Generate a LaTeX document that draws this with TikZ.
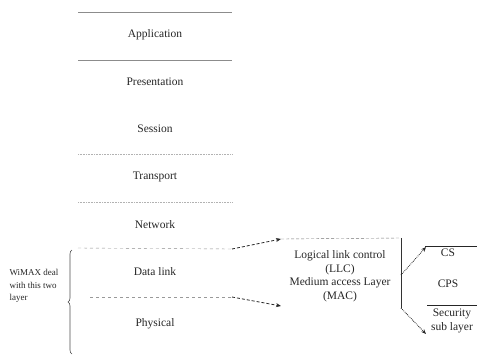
\documentclass[tikz,border=0pt]{standalone}
\usepackage{fontspec}
\setmainfont{Liberation Serif}
\usetikzlibrary{calc,arrows.meta,decorations.pathreplacing}

\begin{document}
\begin{tikzpicture}[x=1pt,y=-1pt,
	layer/.style={font=\fontsize{11.5}{13.5}\selectfont,text=black!85},
	sep/.style={black!45,line width=0.7pt},
	faint/.style={black!30,densely dotted,line width=0.6pt},
	conn/.style={black!85,densely dashed,line width=0.8pt,-{Stealth[length=5pt,width=4pt]}}]
	\useasboundingbox (0,0) rectangle (477,354);
	\newcommand{\stL}{78}
	\newcommand{\stR}{232}
	% OSI stack
	\foreach \nm/\y in {Application/35,Presentation/82,Session/129,Transport/177,Network/225}{
		\node[layer] (\nm) at (155,\y) {\nm};
	}
	\node[layer] (datalink) at (155,272) {Data link};
	\node[layer] (physical) at (155,324) {Physical};
	\draw[sep] (\stL,12) -- (\stR,12); %top
	\draw[sep] (\stL,60) -- (\stR,60);
	\draw[faint] (\stL,154) -- (\stR,154);
	\draw[faint] (\stL,202) -- (\stR,202);
	\coordinate (dltop) at (\stR,249);
	\coordinate (dlmid) at (\stR,297);
	\draw[black!45,dashed] (\stL,248) -- (dltop);
	\draw[black!40,dashed] (90,297) -- (dlmid);
	% brace + WiMAX
	\draw[black!70,line width=0.6pt,decorate,decoration={brace,amplitude=4pt}] (72,354) -- (72,250);
	\node[anchor=west,align=left,font=\fontsize{9}{12.5}\selectfont,text=black!85] (wimax) at (6,286)
		{WiMAX deal\\with this two\\layer};
	% LLC / MAC
	\node[layer,align=center] (llcmac) at (340,276)
		{Logical link control\\(LLC)\\Medium access Layer\\(MAC)};
	\coordinate (llc) at (281,239);
	\coordinate (mac) at (281,306);
	\draw[conn] (dltop) -- (llc);
	\draw[conn] (dlmid) -- (mac);
	\coordinate (brtop) at (401,238);
	\coordinate (brbot) at (401,308);
	\coordinate (brmid) at (401,275);
	\draw[black!55,densely dashed] (llc) -- (brtop);
	\draw[black!80,line width=0.7pt] (brtop) -- (brbot);
	% MAC sublayers
	\node[layer] (cs) at (448,253) {CS};
	\node[layer] (cps) at (448,284) {CPS};
	\node[layer,align=center] (secu) at (452,321) {Security\\sub layer};
	\coordinate (csarr) at (426,247);
	\coordinate (secarr) at (426,334);
	\draw[black!85,line width=0.8pt] (425,246) -- (477,246);
	\draw[black!85,line width=0.7pt] (427,305) -- (477,305);
	\draw[conn,densely dotted] (brmid) -- (csarr);
	\draw[conn,densely dotted] (brbot) -- (secarr);
\end{tikzpicture}
\end{document}
